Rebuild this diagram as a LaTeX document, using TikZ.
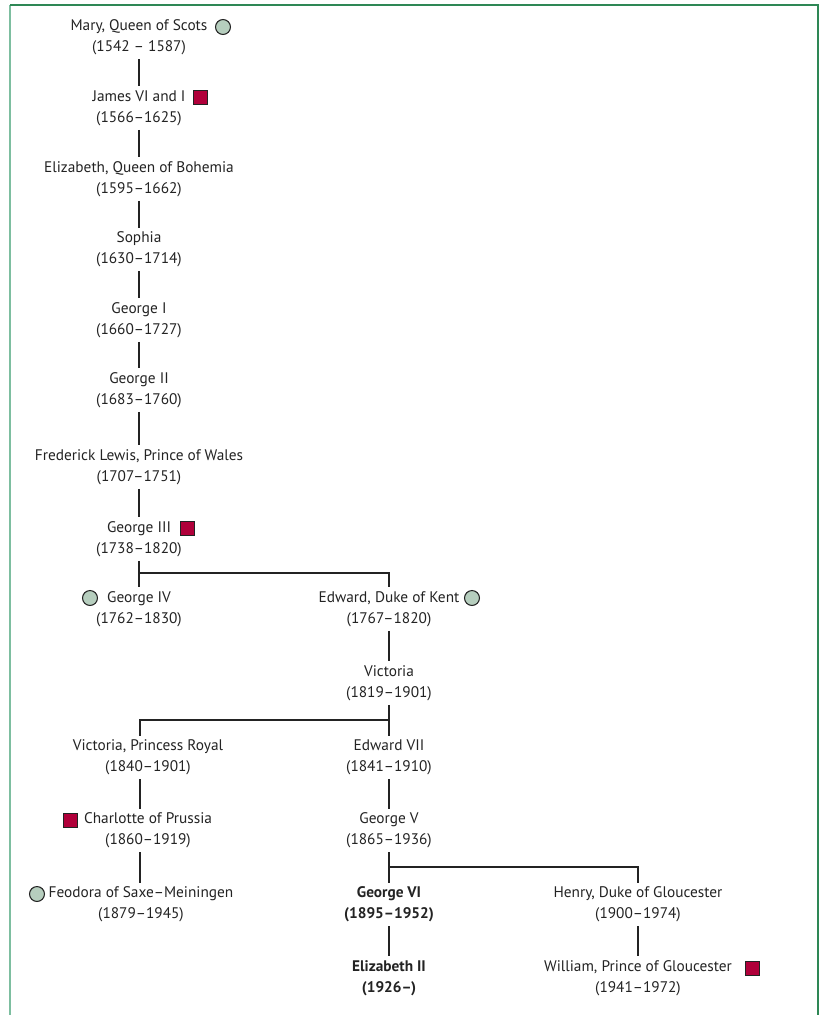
\documentclass[tikz,border=0pt]{standalone}
\usepackage{fontspec}
\setmainfont{PT Sans}

\definecolor{framegreen}{RGB}{46,135,85}
\definecolor{framelight}{RGB}{125,190,160}
\definecolor{sagegreen}{RGB}{182,206,190}
\definecolor{royalred}{RGB}{176,0,58}
\definecolor{inkgrey}{RGB}{35,35,35}

\tikzset{
  person/.style={align=center, inner sep=3pt, text=inkgrey, font=\fontsize{11.5}{15.75}\selectfont},
  link/.style={draw=inkgrey, line width=0.8pt},
  roundmark/.style={draw=inkgrey, fill=sagegreen, line width=0.8pt},
  boxmark/.style={draw=inkgrey, fill=royalred, line width=0.5pt}
}

\begin{document}
\begin{tikzpicture}[x=0.75pt, y=-0.75pt]
            \useasboundingbox (0,0) rectangle (824,1015);
            \draw[framelight, line width=1.5pt] (10,1015) -- (10,5);
            \draw[framegreen, line width=1.5pt] (10,5) -- (818,5) -- (818,1015);

            % main line
            \node[person] (mary) at (139,37.5) {Mary, Queen of Scots\\(1542 -- 1587)};
            \node[person] (james) at (139,108) {James VI and I\\(1566--1625)};
            \node[person] (elizabeth) at (139,179) {Elizabeth, Queen of Bohemia\\(1595--1662)};
            \node[person] (sophia) at (139,249.5) {Sophia\\(1630--1714)};
            \node[person] (georgeI) at (139,320) {George I\\(1660--1727)};
            \node[person] (georgeII) at (139,390) {George II\\(1683--1760)};
            \node[person] (frederick) at (139,467) {Frederick Lewis, Prince of Wales\\(1707--1751)};
            \node[person] (georgeIII) at (139,539) {George III\\(1738--1820)};
            \node[person] (georgeIV) at (139,609) {George IV\\(1762--1830)};
            \node[person] (kent) at (389,609) {Edward, Duke of Kent\\(1767--1820)};
            \node[person] (victoria) at (389,683) {Victoria\\(1819--1901)};
            \node[person] (royal) at (148,757.5) {Victoria, Princess Royal\\(1840--1901)};
            \node[person] (edwardVII) at (389,757.5) {Edward VII\\(1841--1910)};
            \node[person] (charlotte) at (148,830.5) {Charlotte of Prussia\\(1860--1919)};
            \node[person] (georgeV) at (389,830.5) {George V\\(1865--1936)};
            \node[person] (feodora) at (141,904.5) {Feodora of Saxe--Meiningen\\(1879--1945)};
            \node[person, font=\fontsize{11.5}{15.75}\selectfont\bfseries] (georgeVI) at (389,904.5) {George VI\\(1895--1952)};
            \node[person] (henry) at (638,904.5) {Henry, Duke of Gloucester\\(1900--1974)};
            \node[person, font=\fontsize{11.5}{15.75}\selectfont\bfseries] (elizabethII) at (389,978) {Elizabeth II\\(1926--)};
            \node[person] (william) at (638,978) {William, Prince of Gloucester\\(1941--1972)};
            \coordinate (leftcol) at (140,0);

            % markers
            \draw[roundmark] (223,27) circle[radius=5.6pt];
            \draw[boxmark] (193,90) rectangle +(14,14);
            \draw[boxmark] (180,521) rectangle +(14,14);
            \draw[roundmark] (90,598) circle[radius=5.6pt];
            \draw[roundmark] (472,598) circle[radius=5.6pt];
            \draw[boxmark] (63,813) rectangle +(14,14);
            \draw[roundmark] (37,894) circle[radius=5.6pt];
            \draw[boxmark] (745,961) rectangle +(14,14);

            % descent
            \draw[link] (mary) -- (james);
            \draw[link] (james) -- (elizabeth);
            \draw[link] (elizabeth) -- (sophia);
            \draw[link] (sophia) -- (georgeI);
            \draw[link] (georgeI) -- (georgeII);
            \draw[link] (georgeII) -- (frederick);
            \draw[link] (frederick) -- (georgeIII);
            \draw[link] (georgeIII) -- (georgeIV);
            \coordinate (forkA) at (139,573);
            \draw[link] (forkA) -| (kent);
            \draw[link] (kent) -- (victoria);
            \draw[link] (victoria) -- (edwardVII);
            \coordinate (forkB) at (389,720);
            \draw[link] (forkB) -| (royal.north -| leftcol);
            \draw[link] (royal.south -| leftcol) -- (charlotte.north -| leftcol);
            \draw[link] (charlotte.south -| leftcol) -- (feodora.north -| leftcol);
            \draw[link] (edwardVII) -- (georgeV);
            \draw[link] (georgeV) -- (georgeVI);
            \draw[link] (georgeVI) -- (elizabethII);
            \coordinate (forkC) at (389,867);
            \draw[link] (forkC) -| (henry);
            \draw[link, line width=1.2pt] (henry) -- (william);
        \end{tikzpicture}
\end{document}
